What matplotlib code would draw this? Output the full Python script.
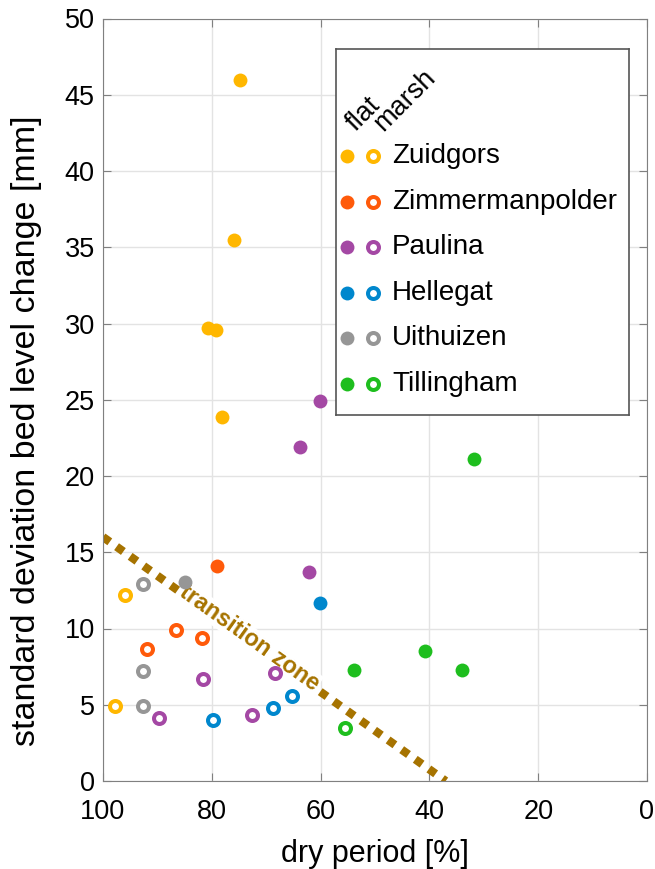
import matplotlib.pyplot as plt
import numpy as np

plt.rcParams['font.family'] = ['Liberation Sans', 'DejaVu Sans']

# site names and colours
sites = ['Zuidgors', 'Zimmermanpolder', 'Paulina', 'Hellegat', 'Uithuizen', 'Tillingham']
colors = ['#FFB700', '#FF5A0A', '#A448A4', '#0087CD', '#969696', '#1EBE1E']

# flat (filled) points: dry period [%], std bed level change [mm]
flat_x = {
    'Zuidgors': [74.9, 75.9, 80.7, 79.2, 78.2],
    'Zimmermanpolder': [79.0],
    'Paulina': [60.1, 63.8, 62.1],
    'Hellegat': [60.1],
    'Uithuizen': [84.9],
    'Tillingham': [53.9, 40.8, 34.0, 31.8],
}
flat_y = {
    'Zuidgors': [46.0, 35.5, 29.7, 29.6, 23.9],
    'Zimmermanpolder': [14.1],
    'Paulina': [24.9, 21.9, 13.7],
    'Hellegat': [11.7],
    'Uithuizen': [13.05],
    'Tillingham': [7.3, 8.5, 7.3, 21.1],
}

# marsh (open) points
marsh_x = {
    'Zuidgors': [96.0, 97.8],
    'Zimmermanpolder': [86.6, 81.8, 92.0],
    'Paulina': [81.7, 68.3, 89.7, 72.6],
    'Hellegat': [79.7, 68.8, 65.3],
    'Uithuizen': [92.7, 92.7, 92.7],
    'Tillingham': [55.5],
}
marsh_y = {
    'Zuidgors': [12.2, 4.95],
    'Zimmermanpolder': [9.9, 9.4, 8.65],
    'Paulina': [6.7, 7.05, 4.1, 4.35],
    'Hellegat': [4.0, 4.8, 5.6],
    'Uithuizen': [12.95, 7.2, 4.95],
    'Tillingham': [3.5],
}

# transition zone line
trans_x = [100, 37]
trans_y = [16, 0]
trans_color = '#A67300'

fig = plt.figure(figsize=(6.55, 8.69), dpi=100)
ax = fig.add_axes([103/655, 1 - 781/869, 544/655, 762.5/869])

for s, c in zip(sites, colors):
    ax.plot(flat_x[s], flat_y[s], 'o', ls='none', color=c, ms=10, mec='none', zorder=3)
    ax.plot(marsh_x[s], marsh_y[s], 'o', ls='none', mfc='white', mec=c, ms=7.9, mew=2.9, zorder=3)

ax.plot(trans_x, trans_y, color=trans_color, lw=6, ls=(0, (1, 1)), dash_capstyle='butt', zorder=2)
ax.text(73.0, 9.35, 'transition zone', color=trans_color, fontsize=16.8, fontweight='bold',
        rotation=-35.5, ha='center', va='center', rotation_mode='anchor', zorder=2.5,
        bbox=dict(facecolor='white', edgecolor='none', pad=0))

ax.set_xlim(100, 0)
ax.set_ylim(0, 50)
ax.set_xticks(np.arange(100, -1, -20))
ax.set_yticks(np.arange(0, 51, 5))
ax.tick_params(direction='in', length=6, color='#808080', labelsize=19.5, top=True, right=True)
ax.tick_params(axis='x', pad=13)
ax.tick_params(axis='y', pad=6)
for sp in ax.spines.values():
    sp.set_color('#808080')
ax.grid(True, color='#e3e3e3', lw=1)
ax.set_axisbelow(True)
ax.set_xlabel('dry period [%]', fontsize=22, labelpad=10)
ax.set_ylabel('standard deviation bed level change [mm]', fontsize=24.5)
ax.yaxis.set_label_coords(-0.112, 0.46)

# legend drawn by hand in its own axes (pixel units)
lax = fig.add_axes([336/655, 1 - 415/869, 293/655, 366/869])
lax.set_xlim(0, 293)
lax.set_ylim(366, 0)
lax.set_xticks([])
lax.set_yticks([])
for sp in lax.spines.values():
    sp.set_color('#555555')
    sp.set_linewidth(1.2)
lax.text(20, 83, 'flat', rotation=45, rotation_mode='anchor', ha='left', va='baseline', fontsize=19.5)
lax.text(47, 83, 'marsh', rotation=45, rotation_mode='anchor', ha='left', va='baseline', fontsize=19.5)
for i, (s, c) in enumerate(zip(sites, colors)):
    yy = 107.4 + i * 45.5
    lax.plot([11], [yy], 'o', color=c, ms=10, mec='none')
    lax.plot([37], [yy], 'o', mfc='white', mec=c, ms=7.9, mew=2.9)
    lax.text(56, yy, s, fontsize=20, va='center', ha='left')

fig.savefig('out.png', dpi=100)
